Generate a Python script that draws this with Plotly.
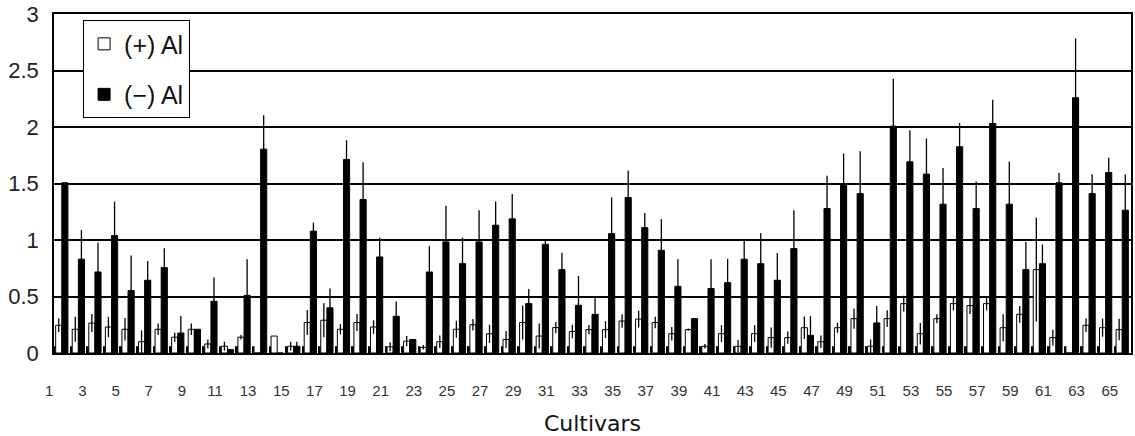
import plotly.graph_objects as go

# Cultivar numbers 1..65 and the odd ones used as tick labels
cultivars = list(range(1, 66))
tick_vals = cultivars[::2]
tick_labels = [str(k) for k in tick_vals]

# (+) Al means and standard errors
al_plus = [0.245, 0.21, 0.265, 0.23, 0.21, 0.10, 0.21, 0.14, 0.21, 0.08,
           0.06, 0.14, 0.0, 0.15, 0.06, 0.27, 0.29, 0.21, 0.27, 0.23,
           0.055, 0.105, 0.05, 0.10, 0.21, 0.25, 0.17, 0.12, 0.27, 0.15,
           0.225, 0.19, 0.207, 0.207, 0.283, 0.30, 0.27, 0.17, 0.207, 0.059,
           0.171, 0.059, 0.171, 0.136, 0.136, 0.224, 0.10, 0.224, 0.304, 0.06,
           0.304, 0.437, 0.171, 0.304, 0.437, 0.42, 0.437, 0.224, 0.342, 0.738,
           0.136, 0.0, 0.245, 0.224, 0.207]
al_plus_err = [0.06, 0.11, 0.08, 0.09, 0.10, 0.10, 0.05, 0.04, 0.05, 0.04,
               0.04, 0.02, 0.0, 0.0, 0.04, 0.11, 0.15, 0.045, 0.075, 0.06,
               0.04, 0.045, 0.02, 0.055, 0.075, 0.05, 0.08, 0.075, 0.15, 0.11,
               0.05, 0.06, 0.04, 0.075, 0.06, 0.075, 0.05, 0.06, 0.01, 0.02,
               0.075, 0.055, 0.075, 0.09, 0.055, 0.10, 0.055, 0.045, 0.09, 0.06,
               0.075, 0.07, 0.095, 0.04, 0.06, 0.075, 0.06, 0.12, 0.075, 0.46,
               0.07, 0.0, 0.06, 0.08, 0.095]

# (-) Al means and standard errors
al_minus = [1.506, 0.83, 0.717, 1.039, 0.552, 0.644, 0.756, 0.177, 0.21, 0.458,
            0.03, 0.51, 1.804, 0.0, 0.06, 1.078, 0.40, 1.712, 1.358, 0.85,
            0.325, 0.12, 0.717, 0.983, 0.791, 0.983, 1.131, 1.187, 0.437, 0.962,
            0.738, 0.422, 0.342, 1.057, 1.376, 1.11, 0.909, 0.59, 0.304, 0.57,
            0.623, 0.83, 0.79, 0.644, 0.924, 0.156, 1.278, 1.485, 1.411, 0.266,
            2.008, 1.692, 1.583, 1.317, 1.825, 1.278, 2.031, 1.317, 0.738, 0.79,
            1.506, 2.259, 1.411, 1.597, 1.264]
al_minus_err = [0.0, 0.26, 0.26, 0.30, 0.31, 0.17, 0.17, 0.15, 0.0, 0.21,
                0.0, 0.32, 0.30, 0.0, 0.04, 0.075, 0.17, 0.17, 0.33, 0.17,
                0.13, 0.0, 0.23, 0.32, 0.23, 0.28, 0.21, 0.22, 0.13, 0.035,
                0.15, 0.26, 0.155, 0.32, 0.24, 0.13, 0.275, 0.24, 0.0, 0.26,
                0.21, 0.17, 0.27, 0.24, 0.34, 0.17, 0.29, 0.28, 0.375, 0.15,
                0.42, 0.28, 0.315, 0.32, 0.21, 0.24, 0.21, 0.375, 0.245, 0.17,
                0.09, 0.525, 0.17, 0.13, 0.315]

# small dark marks at the start of each cultivar group
base_marks = [0.06, 0.06, 0.06, 0.06, 0.06, 0.06, 0.06, 0.06, 0.06, 0.06,
              0.06, 0.06, 0.06, 0.06, 0.06, 0.06, 0.06, 0.06, 0.06, 0.06,
              0.06, 0.06, 0.06, 0.06, 0.06, 0.06, 0.06, 0.06, 0.06, 0.06,
              0.06, 0.06, 0.06, 0.06, 0.06, 0.06, 0.06, 0.06, 0.06, 0.06,
              0.06, 0.06, 0.06, 0.06, 0.06, 0.06, 0.06, 0.06, 0.06, 0.06,
              0.06, 0.06, 0.06, 0.06, 0.06, 0.06, 0.06, 0.06, 0.06, 0.06,
              0.06, 0.06, 0.06, 0.06, 0.06]

err_style = dict(type="data", symmetric=True, color="black", thickness=1.3, width=0)

fig = go.Figure()
fig.add_trace(go.Bar(
    x=cultivars, y=base_marks, offset=-0.52, width=0.12,
    marker=dict(color="black", line=dict(width=0)),
    showlegend=False, hoverinfo="skip",
))
fig.add_trace(go.Bar(
    name="(+) Al", x=cultivars, y=al_plus, offset=-0.40, width=0.37,
    marker=dict(color="white", line=dict(color="black", width=1)),
    error_y=dict(array=al_plus_err, **err_style),
    legendgroup="plus",
))
fig.add_trace(go.Bar(
    name="(\u2212) Al", x=cultivars, y=al_minus, offset=-0.03, width=0.37,
    marker=dict(color="black", line=dict(color="black", width=1)),
    error_y=dict(array=al_minus_err, **err_style),
    legendgroup="minus",
))

fig.update_layout(
    width=1135, height=436,
    margin=dict(l=54, r=2, t=14, b=83),
    barmode="overlay",
    plot_bgcolor="white", paper_bgcolor="white",
    legend=dict(
        x=0.027, y=0.982, xanchor="left", yanchor="top",
        bordercolor="black", borderwidth=1, bgcolor="white",
        font=dict(family="Liberation Sans", size=25, color="#111"),
        tracegroupgap=15,
    ),
    xaxis=dict(
        range=[0.5, 65.5], tickvals=tick_vals, ticktext=tick_labels,
        ticks="", showgrid=False, zeroline=False,
        showline=True, linecolor="black", linewidth=2, mirror=True,
        ticklabelshift=-13, ticklabelstandoff=23,
        tickfont=dict(family="Liberation Sans", size=15, color="#333"),
        title=dict(text="Cultivars", standoff=18,
                   font=dict(family="DejaVu Sans", size=22, color="#111")),
    ),
    yaxis=dict(
        range=[0, 3], dtick=0.5, ticks="", zeroline=False,
        showgrid=True, gridcolor="black", gridwidth=1.5,
        showline=True, linecolor="black", linewidth=1.5, mirror=True,
        ticklabelstandoff=9,
        tickfont=dict(family="Liberation Sans", size=22, color="#222"),
    ),
)

fig.write_html("out.html")
